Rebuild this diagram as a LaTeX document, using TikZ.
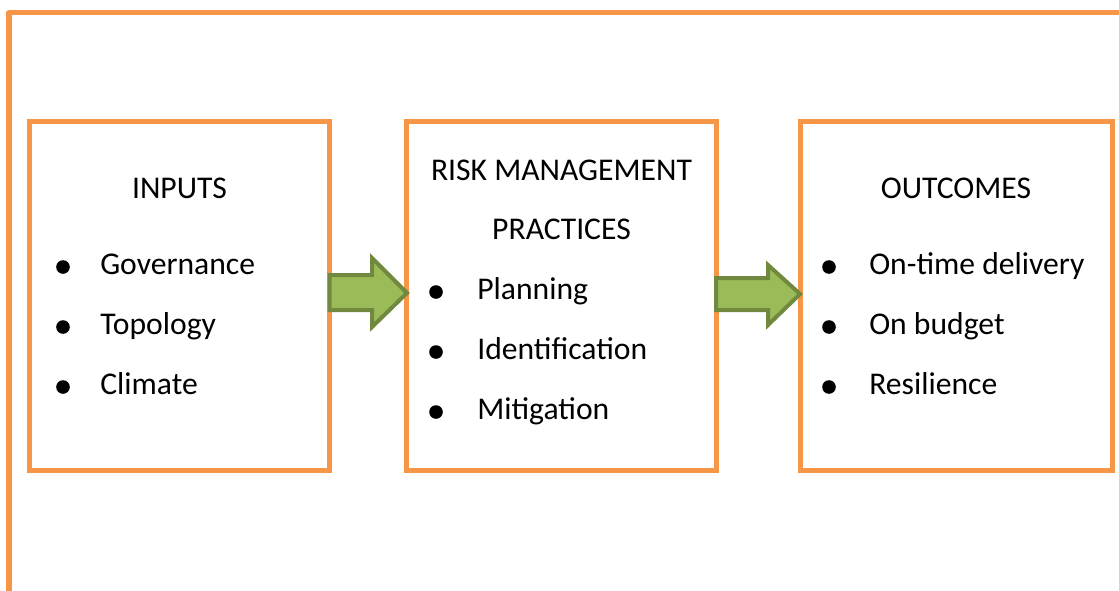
\documentclass[tikz,border=0pt]{standalone}
\usepackage{fontspec}
\setmainfont{Carlito}
\usetikzlibrary{positioning}

\definecolor{frameorange}{HTML}{F79646}
\definecolor{arrowfill}{HTML}{9BBB59}
\definecolor{arrowline}{HTML}{71893F}

\tikzset{
  stage/.style={draw=frameorange, line width=0.125cm, fill=white,
    inner sep=0pt, outer sep=0pt},
  title/.style={anchor=base, inner sep=0pt, font=\fontsize{22.5}{26}\selectfont},
  item/.style={anchor=base west, inner sep=0pt, font=\fontsize{22.5}{26}\selectfont},
  dot/.style={circle, fill=black, inner sep=0pt, minimum size=0.34cm},
  blockarrow/.style={fill=arrowfill, draw=arrowline, line width=0.1cm, line join=miter}
}

\begin{document}
\begin{tikzpicture}[x=0.025cm, y=-0.025cm]
  \useasboundingbox (0,0) rectangle (1119,591);

  % outer frame, open at right and bottom
  \draw[frameorange, line width=0.125cm, line join=round] (1119,12.5) -- (9,12.5) -- (9,591);

  % the three stages
  \node[stage, minimum width=7.5cm, minimum height=8.71cm] (inputs) at (179.5,296) {};
  \node[stage, minimum width=7.725cm, minimum height=8.7cm] (practices) at (561.5,296) {};
  \node[stage, minimum width=7.81cm, minimum height=8.7cm] (outcomes) at (956.25,296) {};

  % arrows between stages
  \draw[blockarrow] (inputs.east |- 0,275) -- (372,275) -- (372,258) -- (practices.west |- 0,293)
    -- (372,327) -- (372,310) -- (inputs.east |- 0,310) -- cycle;
  \draw[blockarrow] (practices.east |- 0,278) -- (768,278) -- (768,265) -- (outcomes.west |- 0,294)
    -- (768,325) -- (768,310) -- (practices.east |- 0,310) -- cycle;

  % inputs
  \node[title] (inputs title) at (179.5,198) {INPUTS};
  \foreach \y/\txt [count=\i] in {274/Governance, 334/Topology, 394/Climate}{
    \node[dot] (in dot \i) at (63,\y-7) {};
    \node[item] (in item \i) at (100,\y) {\txt};
  }

  % practices
  \node[title] (practices title a) at (561.5,180) {RISK MANAGEMENT};
  \node[title] (practices title b) at (561.5,239) {PRACTICES};
  \foreach \y/\txt [count=\i] in {299/Planning, 359/Identification, 419/Mitigation}{
    \node[dot] (pr dot \i) at (436,\y-7) {};
    \node[item] (pr item \i) at (477,\y) {\txt};
  }

  % outcomes
  \node[title] (outcomes title) at (956,198) {OUTCOMES};
  \foreach \y/\txt [count=\i] in {274/On-time delivery, 334/On budget, 394/Resilience}{
    \node[dot] (out dot \i) at (829,\y-7) {};
    \node[item] (out item \i) at (869,\y) {\txt};
  }
\end{tikzpicture}
\end{document}
